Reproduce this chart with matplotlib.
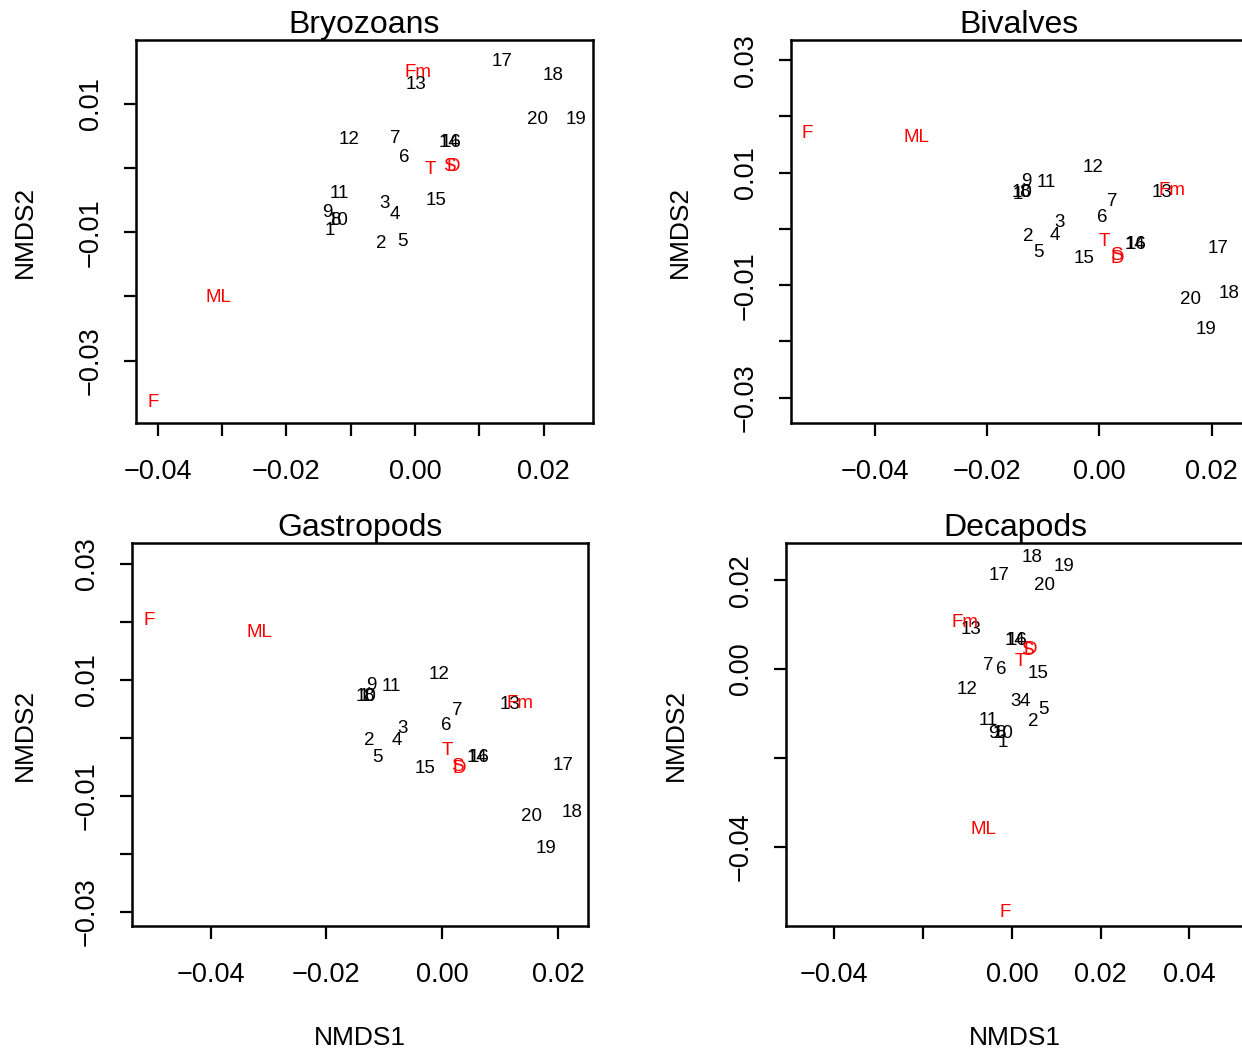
import matplotlib
matplotlib.use('Agg')
import matplotlib.pyplot as plt

plt.rcParams['font.family'] = ['Liberation Sans', 'DejaVu Sans']

# Site labels (black) and factor labels (red)
site_labels = [str(i) for i in range(1, 21)]
env_labels = ['F', 'ML', 'Fm', 'T', 'S', 'D']

# Bryozoans scores
bryo_x = [-0.0132, -0.0053, -0.0047, -0.0031, -0.0019, -0.0016, -0.0031, -0.0123, -0.0137, -0.0120,
          -0.0118, -0.0103, 0.0002, 0.0053, 0.0033, 0.0056, 0.0135, 0.0214, 0.0250, 0.0190]
bryo_y = [-0.0098, -0.0117, -0.0056, -0.0073, -0.0115, 0.0016, 0.0045, -0.0082, -0.0070, -0.0082,
          -0.0040, 0.0044, 0.0129, 0.0039, -0.0051, 0.0039, 0.0166, 0.0143, 0.0075, 0.0076]
bryo_env_x = [-0.0407, -0.0305, 0.0005, 0.0023, 0.0054, 0.0059]
bryo_env_y = [-0.0365, -0.0201, 0.0148, -0.0003, 0.0002, 0.0002]

# Bivalves scores
biv_x = [-0.0146, -0.0126, -0.0071, -0.0080, -0.0108, 0.0005, 0.0023, -0.0133, -0.0130, -0.0137,
         -0.0094, -0.0012, 0.0112, 0.0063, -0.0027, 0.0066, 0.0212, 0.0231, 0.0190, 0.0162]
biv_y = [0.0062, -0.0014, 0.0011, -0.0011, -0.0041, 0.0021, 0.0048, 0.0064, 0.0084, 0.0064,
         0.0082, 0.0110, 0.0064, -0.0028, -0.0053, -0.0028, -0.0034, -0.0114, -0.0178, -0.0126]
biv_env_x = [-0.0521, -0.0325, 0.0130, 0.0009, 0.0030, 0.0032]
biv_env_y = [0.0169, 0.0162, 0.0069, -0.0023, -0.0048, -0.0052]

# Gastropods scores
gast_x = [-0.0135, -0.0126, -0.0069, -0.0078, -0.0111, 0.0007, 0.0026, -0.0128, -0.0123, -0.0131,
          -0.0088, -0.0005, 0.0118, 0.0061, -0.0029, 0.0064, 0.0209, 0.0225, 0.0180, 0.0154]
gast_y = [0.0071, -0.0005, 0.0016, -0.0005, -0.0034, 0.0021, 0.0047, 0.0071, 0.0091, 0.0072,
          0.0088, 0.0110, 0.0057, -0.0033, -0.0052, -0.0033, -0.0047, -0.0128, -0.0190, -0.0136]
gast_env_x = [-0.0507, -0.0315, 0.0135, 0.0009, 0.0026, 0.0029]
gast_env_y = [0.0202, 0.0181, 0.0060, -0.0022, -0.0050, -0.0053]

# Decapods scores
deca_x = [-0.0020, 0.0047, 0.0009, 0.0029, 0.0070, -0.0023, -0.0054, -0.0027, -0.0041, -0.0020,
          -0.0054, -0.0101, -0.0092, 0.0008, 0.0059, 0.0011, -0.0029, 0.0045, 0.0117, 0.0074]
deca_y = [-0.0165, -0.0119, -0.0074, -0.0074, -0.0092, 0.0000, 0.0009, -0.0146, -0.0146, -0.0146,
          -0.0117, -0.0045, 0.0088, 0.0065, -0.0011, 0.0065, 0.0210, 0.0252, 0.0232, 0.0189]
deca_env_x = [-0.0016, -0.0065, -0.0106, 0.0018, 0.0036, 0.0041]
deca_env_y = [-0.0548, -0.0361, 0.0104, 0.0016, 0.0041, 0.0045]

W, H = 1242, 1052


def fmt(v):
    s = f'{v:.2f}'
    return s.replace('-', '\u2212')


# Draw one ordination panel (box given in pixels)
def draw_panel(fig, box, title, sx, sy, ex, ey, xlim, ylim, xticks, xlab, yticks, ylab):
    left, right, top, bottom = box
    ax = fig.add_axes([left / W, 1 - bottom / H, (right - left) / W, (bottom - top) / H])
    ax.set_xlim(*xlim)
    ax.set_ylim(*ylim)
    for lab, x, y in zip(site_labels, sx, sy):
        ax.text(x, y, lab, ha='center', va='center', fontsize=13.5, color='black')
    for lab, x, y in zip(env_labels, ex, ey):
        ax.text(x, y, lab, ha='center', va='center', fontsize=13.5, color='red')
    ax.set_xticks(xticks)
    ax.set_xticklabels([fmt(v) if v in xlab else '' for v in xticks], fontsize=19.5)
    ax.set_yticks(yticks)
    ax.set_yticklabels([fmt(v) if v in ylab else '' for v in yticks], fontsize=19.5,
                       rotation=90, va='center')
    ax.tick_params(direction='out', length=9, width=1.6)
    ax.tick_params(axis='x', pad=17)
    ax.tick_params(axis='y', pad=14)
    for sp in ax.spines.values():
        sp.set_linewidth(1.8)
    ax.set_title(title, fontsize=23, pad=4)
    return ax


fig = plt.figure(figsize=(W / 100, H / 100), dpi=100)

draw_panel(fig, (136, 593, 40, 423), 'Bryozoans', bryo_x, bryo_y, bryo_env_x, bryo_env_y,
           (-0.04336, 0.02766), (-0.0397, 0.0199),
           [-0.04, -0.03, -0.02, -0.01, 0.0, 0.01, 0.02], [-0.04, -0.02, 0.0, 0.02],
           [-0.03, -0.02, -0.01, 0.0, 0.01], [-0.03, -0.01, 0.01])

draw_panel(fig, (791, 1247, 40, 423), 'Bivalves', biv_x, biv_y, biv_env_x, biv_env_y,
           (-0.0549, 0.0263), (-0.0345, 0.0336),
           [-0.04, -0.02, 0.0, 0.02], [-0.04, -0.02, 0.0, 0.02],
           [-0.03, -0.02, -0.01, 0.0, 0.01, 0.02, 0.03], [-0.03, -0.01, 0.01, 0.03])

draw_panel(fig, (132, 588, 543, 926), 'Gastropods', gast_x, gast_y, gast_env_x, gast_env_y,
           (-0.0536, 0.0252), (-0.0324, 0.0336),
           [-0.04, -0.02, 0.0, 0.02], [-0.04, -0.02, 0.0, 0.02],
           [-0.03, -0.02, -0.01, 0.0, 0.01, 0.02, 0.03], [-0.03, -0.01, 0.01, 0.03])

draw_panel(fig, (786, 1244, 543, 926), 'Decapods', deca_x, deca_y, deca_env_x, deca_env_y,
           (-0.0509, 0.0523), (-0.0579, 0.0284),
           [-0.04, -0.02, 0.0, 0.02, 0.04], [-0.04, 0.0, 0.02, 0.04],
           [-0.04, -0.02, 0.0, 0.02], [-0.04, 0.0, 0.02])

# Axis titles
for (px, py) in [(25, 232), (680, 232), (25, 735), (676, 735)]:
    fig.text(px / W, 1 - py / H, 'NMDS2', rotation=90, ha='center', va='center', fontsize=19)
for (px, py) in [(360, 1038), (1015, 1038)]:
    fig.text(px / W, 1 - py / H, 'NMDS1', ha='center', va='center', fontsize=19)

fig.savefig('out.png', dpi=100)
